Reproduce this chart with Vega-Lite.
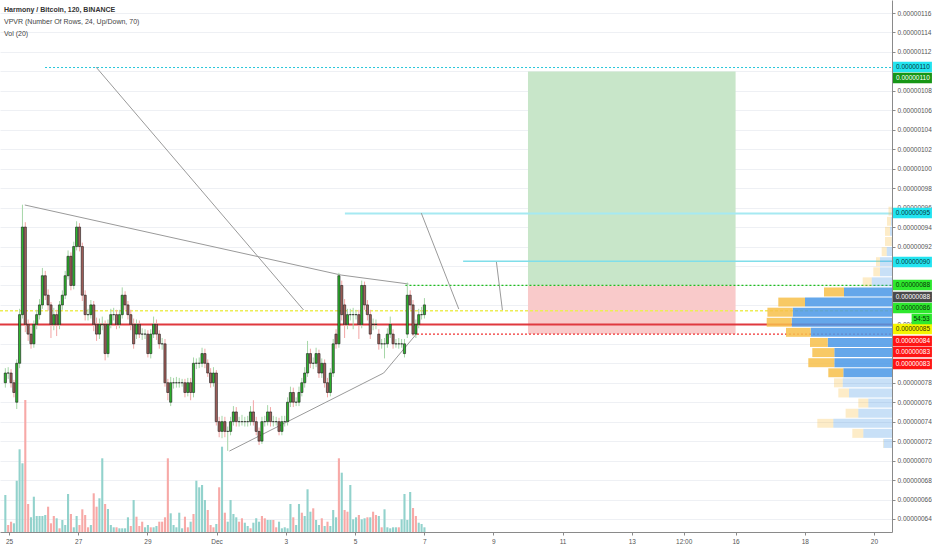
{
"$schema": "https://vega.github.io/schema/vega-lite/v6.json",
"width": 892, "height": 532,
"autosize": {"type": "none"},
"padding": {"left": 0, "top": 0, "right": 40, "bottom": 18},
"background": "white",
"title": {"text": "Harmony / Bitcoin, 120, BINANCE", "subtitle": ["VPVR (Number Of Rows, 24, Up/Down, 70)", "Vol (20)"], "anchor": "start", "frame": "group", "orient": "top", "offset": -37, "dx": 4, "font": "Liberation Sans", "fontSize": 7, "fontWeight": "bold", "color": "#333333", "subtitleFont": "Liberation Sans", "subtitleFontSize": 7, "subtitleColor": "#444444", "subtitlePadding": 5, "subtitleLineHeight": 12.5},
"config": {"view": {"stroke": null}, "axis": {"labelFont": "Liberation Sans"}},
"datasets": {
"candles": [
{"h":-6,"o":78,"c":79,"hi":79.5,"lo":77.5,"v":370,"vu":1},
{"h":-4,"o":79,"c":79,"hi":79.6,"lo":78.4,"v":70,"vu":0},
{"h":-2,"o":79,"c":78,"hi":79.4,"lo":77.5,"v":103,"vu":0},
{"h":0,"o":78,"c":77,"hi":78.3,"lo":76.5,"v":87,"vu":1},
{"h":2,"o":76,"c":80,"hi":80.4,"lo":75.3,"v":513,"vu":1},
{"h":4,"o":80,"c":85,"hi":85.6,"lo":79.5,"v":827,"vu":1},
{"h":6,"o":85,"c":94,"hi":96.3,"lo":84.6,"v":687,"vu":1},
{"h":8,"o":94,"c":84,"hi":94.5,"lo":83.2,"v":1320,"vu":0},
{"h":10,"o":84,"c":83,"hi":84.5,"lo":82.3,"v":280,"vu":0},
{"h":12,"o":83,"c":82,"hi":83.8,"lo":81.5,"v":147,"vu":1},
{"h":14,"o":82,"c":84,"hi":84.4,"lo":81.6,"v":353,"vu":1},
{"h":16,"o":84,"c":85,"hi":85.5,"lo":83.5,"v":160,"vu":1},
{"h":18,"o":85,"c":86,"hi":86.6,"lo":84.5,"v":160,"vu":1},
{"h":20,"o":86,"c":89,"hi":89.8,"lo":85.6,"v":160,"vu":1},
{"h":22,"o":89,"c":87,"hi":89.5,"lo":86.5,"v":170,"vu":1},
{"h":24,"o":87,"c":86,"hi":87.6,"lo":85.4,"v":253,"vu":0},
{"h":26,"o":86,"c":84,"hi":86.3,"lo":82.6,"v":87,"vu":0},
{"h":28,"o":84,"c":85,"hi":85.7,"lo":83.4,"v":160,"vu":0},
{"h":30,"o":85,"c":84,"hi":85.5,"lo":82.8,"v":137,"vu":1},
{"h":32,"o":84,"c":86,"hi":86.4,"lo":83.5,"v":37,"vu":0},
{"h":34,"o":86,"c":87,"hi":87.5,"lo":85.5,"v":120,"vu":1},
{"h":36,"o":87,"c":89,"hi":89.5,"lo":86.6,"v":70,"vu":1},
{"h":38,"o":89,"c":91,"hi":91.6,"lo":88.6,"v":380,"vu":1},
{"h":40,"o":91,"c":88,"hi":91.4,"lo":87.5,"v":180,"vu":0},
{"h":42,"o":88,"c":92,"hi":92.5,"lo":87.6,"v":47,"vu":1},
{"h":44,"o":92,"c":94,"hi":94.6,"lo":91.6,"v":160,"vu":1},
{"h":46,"o":94,"c":92,"hi":94.4,"lo":91.5,"v":70,"vu":0},
{"h":48,"o":92,"c":87,"hi":92.4,"lo":86.4,"v":227,"vu":0},
{"h":50,"o":87,"c":85,"hi":87.5,"lo":84.4,"v":170,"vu":0},
{"h":52,"o":85,"c":85,"hi":85.6,"lo":84.4,"v":47,"vu":0},
{"h":54,"o":85,"c":86,"hi":86.5,"lo":84.6,"v":70,"vu":1},
{"h":56,"o":86,"c":84,"hi":86.4,"lo":83.3,"v":387,"vu":0},
{"h":58,"o":84,"c":83,"hi":84.7,"lo":82.3,"v":253,"vu":0},
{"h":60,"o":83,"c":84,"hi":84.6,"lo":82.5,"v":337,"vu":1},
{"h":62,"o":84,"c":84,"hi":84.8,"lo":83.4,"v":737,"vu":1},
{"h":64,"o":84,"c":81,"hi":84.4,"lo":80.3,"v":280,"vu":0},
{"h":66,"o":81,"c":84,"hi":84.5,"lo":80.6,"v":230,"vu":1},
{"h":68,"o":84,"c":85,"hi":85.6,"lo":83.6,"v":70,"vu":1},
{"h":70,"o":85,"c":85,"hi":85.7,"lo":84.4,"v":47,"vu":1},
{"h":72,"o":85,"c":84,"hi":85.5,"lo":83.5,"v":47,"vu":0},
{"h":74,"o":84,"c":85,"hi":85.5,"lo":83.6,"v":37,"vu":1},
{"h":76,"o":85,"c":87,"hi":87.8,"lo":84.6,"v":37,"vu":1},
{"h":78,"o":87,"c":86,"hi":87.4,"lo":85.5,"v":37,"vu":1},
{"h":80,"o":86,"c":85,"hi":86.4,"lo":84.5,"v":147,"vu":1},
{"h":82,"o":85,"c":84,"hi":85.5,"lo":83.4,"v":60,"vu":0},
{"h":84,"o":84,"c":82,"hi":84.6,"lo":81.5,"v":320,"vu":1},
{"h":86,"o":83,"c":84,"hi":84.5,"lo":82.5,"v":153,"vu":0},
{"h":88,"o":84,"c":83,"hi":84.4,"lo":82.6,"v":60,"vu":0},
{"h":90,"o":83,"c":83,"hi":83.6,"lo":82.4,"v":103,"vu":0},
{"h":92,"o":83,"c":83,"hi":83.5,"lo":82.5,"v":47,"vu":1},
{"h":94,"o":83,"c":81,"hi":83.4,"lo":80.6,"v":70,"vu":1},
{"h":96,"o":81,"c":83,"hi":83.5,"lo":80.5,"v":47,"vu":0},
{"h":98,"o":83,"c":84,"hi":84.8,"lo":82.6,"v":47,"vu":1},
{"h":100,"o":84,"c":83,"hi":84.5,"lo":82.4,"v":60,"vu":1},
{"h":102,"o":83,"c":82,"hi":83.4,"lo":81.5,"v":103,"vu":0},
{"h":104,"o":82,"c":82,"hi":82.6,"lo":81.4,"v":103,"vu":0},
{"h":106,"o":82,"c":78,"hi":82.5,"lo":77.6,"v":147,"vu":0},
{"h":108,"o":78,"c":77,"hi":78.4,"lo":76.2,"v":737,"vu":0},
{"h":110,"o":76,"c":78,"hi":78.6,"lo":75.6,"v":187,"vu":1},
{"h":112,"o":78,"c":78,"hi":78.5,"lo":77.4,"v":70,"vu":1},
{"h":114,"o":78,"c":78,"hi":78.6,"lo":77.5,"v":47,"vu":1},
{"h":116,"o":78,"c":78,"hi":78.5,"lo":77.5,"v":193,"vu":1},
{"h":118,"o":78,"c":78,"hi":78.4,"lo":77.6,"v":37,"vu":1},
{"h":120,"o":78,"c":77,"hi":78.4,"lo":76.5,"v":153,"vu":0},
{"h":122,"o":77,"c":78,"hi":78.5,"lo":76.6,"v":47,"vu":0},
{"h":124,"o":78,"c":77,"hi":78.5,"lo":76.2,"v":103,"vu":1},
{"h":126,"o":77,"c":80,"hi":80.6,"lo":76.5,"v":180,"vu":0},
{"h":128,"o":80,"c":80,"hi":80.5,"lo":79.4,"v":513,"vu":1},
{"h":130,"o":80,"c":80,"hi":80.6,"lo":79.5,"v":447,"vu":1},
{"h":132,"o":80,"c":81,"hi":81.6,"lo":79.6,"v":470,"vu":1},
{"h":134,"o":81,"c":80,"hi":81.5,"lo":79.5,"v":320,"vu":1},
{"h":136,"o":80,"c":79,"hi":80.4,"lo":78.6,"v":220,"vu":0},
{"h":138,"o":79,"c":78,"hi":79.5,"lo":77.5,"v":70,"vu":0},
{"h":140,"o":78,"c":79,"hi":79.6,"lo":77.6,"v":47,"vu":0},
{"h":142,"o":79,"c":74,"hi":79.3,"lo":73.6,"v":80,"vu":1},
{"h":144,"o":74,"c":73,"hi":74.5,"lo":72.4,"v":447,"vu":0},
{"h":146,"o":73,"c":74,"hi":74.6,"lo":72.3,"v":853,"vu":1},
{"h":148,"o":74,"c":73,"hi":74.5,"lo":72.4,"v":193,"vu":0},
{"h":150,"o":73,"c":73,"hi":73.5,"lo":71.0,"v":103,"vu":1},
{"h":152,"o":73,"c":74,"hi":74.5,"lo":72.6,"v":320,"vu":1},
{"h":154,"o":74,"c":75,"hi":75.6,"lo":73.6,"v":180,"vu":1},
{"h":156,"o":75,"c":74,"hi":75.5,"lo":73.5,"v":147,"vu":1},
{"h":158,"o":74,"c":74,"hi":74.5,"lo":73.5,"v":103,"vu":0},
{"h":160,"o":74,"c":74,"hi":74.7,"lo":73.6,"v":137,"vu":0},
{"h":162,"o":74,"c":74,"hi":74.5,"lo":73.5,"v":93,"vu":1},
{"h":164,"o":74,"c":74,"hi":74.6,"lo":73.5,"v":60,"vu":1},
{"h":166,"o":74,"c":75,"hi":75.6,"lo":73.6,"v":37,"vu":0},
{"h":168,"o":75,"c":74,"hi":76.2,"lo":73.6,"v":93,"vu":1},
{"h":170,"o":74,"c":73,"hi":74.5,"lo":72.6,"v":137,"vu":1},
{"h":172,"o":73,"c":72,"hi":73.4,"lo":71.6,"v":103,"vu":1},
{"h":174,"o":72,"c":74,"hi":74.5,"lo":71.7,"v":160,"vu":0},
{"h":176,"o":74,"c":74,"hi":74.6,"lo":73.5,"v":137,"vu":0},
{"h":178,"o":74,"c":75,"hi":75.7,"lo":73.6,"v":120,"vu":1},
{"h":180,"o":75,"c":74,"hi":75.5,"lo":73.5,"v":120,"vu":1},
{"h":182,"o":74,"c":74,"hi":74.6,"lo":73.5,"v":120,"vu":0},
{"h":184,"o":74,"c":74,"hi":74.5,"lo":73.6,"v":47,"vu":0},
{"h":186,"o":74,"c":73,"hi":74.4,"lo":72.6,"v":103,"vu":1},
{"h":188,"o":73,"c":74,"hi":74.6,"lo":72.6,"v":37,"vu":1},
{"h":190,"o":74,"c":74,"hi":74.6,"lo":73.5,"v":47,"vu":1},
{"h":192,"o":74,"c":76,"hi":76.5,"lo":73.6,"v":37,"vu":1},
{"h":194,"o":76,"c":77,"hi":77.6,"lo":75.5,"v":280,"vu":1},
{"h":196,"o":77,"c":76,"hi":77.5,"lo":75.5,"v":147,"vu":0},
{"h":198,"o":76,"c":76,"hi":76.5,"lo":75.6,"v":70,"vu":1},
{"h":200,"o":76,"c":77,"hi":77.6,"lo":75.6,"v":280,"vu":1},
{"h":202,"o":77,"c":78,"hi":78.5,"lo":76.6,"v":193,"vu":0},
{"h":204,"o":78,"c":79,"hi":79.6,"lo":77.5,"v":160,"vu":1},
{"h":206,"o":79,"c":81,"hi":82.3,"lo":78.6,"v":427,"vu":1},
{"h":208,"o":81,"c":80,"hi":81.5,"lo":79.5,"v":203,"vu":1},
{"h":210,"o":80,"c":80,"hi":80.6,"lo":79.4,"v":237,"vu":0},
{"h":212,"o":80,"c":81,"hi":81.6,"lo":79.6,"v":120,"vu":1},
{"h":214,"o":81,"c":79,"hi":81.4,"lo":78.5,"v":70,"vu":1},
{"h":216,"o":79,"c":80,"hi":80.5,"lo":78.5,"v":137,"vu":0},
{"h":218,"o":80,"c":78,"hi":80.4,"lo":77.5,"v":60,"vu":1},
{"h":220,"o":78,"c":77,"hi":78.5,"lo":76.5,"v":103,"vu":0},
{"h":222,"o":77,"c":79,"hi":79.5,"lo":76.6,"v":60,"vu":1},
{"h":224,"o":79,"c":82,"hi":82.5,"lo":78.6,"v":220,"vu":1},
{"h":226,"o":83,"c":82,"hi":83.5,"lo":81.5,"v":147,"vu":1},
{"h":228,"o":82,"c":89,"hi":89.3,"lo":81.6,"v":737,"vu":0},
{"h":230,"o":88,"c":85,"hi":88.5,"lo":84.4,"v":593,"vu":1},
{"h":232,"o":86,"c":84,"hi":86.6,"lo":82.6,"v":220,"vu":0},
{"h":234,"o":84,"c":85,"hi":85.6,"lo":83.5,"v":203,"vu":0},
{"h":236,"o":85,"c":85,"hi":85.6,"lo":84.4,"v":470,"vu":1},
{"h":238,"o":85,"c":85,"hi":85.7,"lo":83.5,"v":127,"vu":1},
{"h":240,"o":85,"c":85,"hi":85.5,"lo":84.5,"v":147,"vu":1},
{"h":242,"o":85,"c":84,"hi":85.5,"lo":82.5,"v":170,"vu":0},
{"h":244,"o":84,"c":88,"hi":88.5,"lo":83.6,"v":127,"vu":1},
{"h":246,"o":88,"c":86,"hi":88.4,"lo":85.5,"v":137,"vu":1},
{"h":248,"o":86,"c":85,"hi":86.5,"lo":84.4,"v":147,"vu":0},
{"h":250,"o":85,"c":83,"hi":85.5,"lo":82.5,"v":147,"vu":1},
{"h":252,"o":84,"c":84,"hi":84.6,"lo":83.4,"v":203,"vu":0},
{"h":254,"o":84,"c":84,"hi":84.5,"lo":83.5,"v":170,"vu":0},
{"h":256,"o":83,"c":82,"hi":83.5,"lo":81.4,"v":160,"vu":1},
{"h":258,"o":82,"c":82,"hi":82.5,"lo":81.5,"v":47,"vu":0},
{"h":260,"o":82,"c":82,"hi":82.6,"lo":80.5,"v":227,"vu":1},
{"h":262,"o":82,"c":83,"hi":83.6,"lo":81.6,"v":47,"vu":1},
{"h":264,"o":83,"c":84,"hi":84.8,"lo":82.6,"v":37,"vu":1},
{"h":266,"o":83,"c":82,"hi":83.5,"lo":81.5,"v":47,"vu":1},
{"h":268,"o":82,"c":82,"hi":82.5,"lo":81.6,"v":47,"vu":1},
{"h":270,"o":82,"c":82,"hi":82.6,"lo":81.5,"v":47,"vu":0},
{"h":272,"o":82,"c":82,"hi":82.5,"lo":81.6,"v":127,"vu":1},
{"h":274,"o":81,"c":82,"hi":82.5,"lo":80.6,"v":380,"vu":1},
{"h":276,"o":83,"c":87,"hi":88.3,"lo":82.6,"v":120,"vu":1},
{"h":278,"o":87,"c":86,"hi":87.5,"lo":85.5,"v":400,"vu":1},
{"h":280,"o":86,"c":83,"hi":86.5,"lo":82.8,"v":240,"vu":0},
{"h":282,"o":83,"c":84,"hi":84.5,"lo":82.6,"v":160,"vu":0},
{"h":284,"o":84,"c":85,"hi":85.6,"lo":83.6,"v":93,"vu":1},
{"h":286,"o":85,"c":85,"hi":85.8,"lo":84.5,"v":80,"vu":1},
{"h":288,"o":85,"c":86,"hi":86.7,"lo":84.6,"v":47,"vu":1}
],
"profile": [
{"lo":70.94,"hi":71.88,"side":"up","vol":85,"area":"outside"},{"lo":70.94,"hi":71.88,"side":"down","vol":5,"area":"outside"},
{"lo":72.00,"hi":72.94,"side":"up","vol":287,"area":"outside"},{"lo":72.00,"hi":72.94,"side":"down","vol":110,"area":"outside"},
{"lo":73.06,"hi":73.99,"side":"up","vol":587,"area":"outside"},{"lo":73.06,"hi":73.99,"side":"down","vol":160,"area":"outside"},
{"lo":74.11,"hi":75.05,"side":"up","vol":337,"area":"outside"},{"lo":74.11,"hi":75.05,"side":"down","vol":127,"area":"outside"},
{"lo":75.17,"hi":76.11,"side":"up","vol":237,"area":"outside"},{"lo":75.17,"hi":76.11,"side":"down","vol":100,"area":"outside"},
{"lo":76.23,"hi":77.17,"side":"up","vol":430,"area":"outside"},{"lo":76.23,"hi":77.17,"side":"down","vol":107,"area":"outside"},
{"lo":77.29,"hi":78.23,"side":"up","vol":493,"area":"outside"},{"lo":77.29,"hi":78.23,"side":"down","vol":87,"area":"outside"},
{"lo":78.35,"hi":79.28,"side":"up","vol":487,"area":"value"},{"lo":78.35,"hi":79.28,"side":"down","vol":150,"area":"value"},
{"lo":79.40,"hi":80.34,"side":"up","vol":577,"area":"value"},{"lo":79.40,"hi":80.34,"side":"down","vol":260,"area":"value"},
{"lo":80.46,"hi":81.40,"side":"up","vol":577,"area":"value"},{"lo":80.46,"hi":81.40,"side":"down","vol":220,"area":"value"},
{"lo":81.52,"hi":82.46,"side":"up","vol":643,"area":"value"},{"lo":81.52,"hi":82.46,"side":"down","vol":177,"area":"value"},
{"lo":82.58,"hi":83.52,"side":"up","vol":813,"area":"value"},{"lo":82.58,"hi":83.52,"side":"down","vol":247,"area":"value"},
{"lo":83.64,"hi":84.57,"side":"up","vol":1003,"area":"value"},{"lo":83.64,"hi":84.57,"side":"down","vol":250,"area":"value"},
{"lo":84.69,"hi":85.63,"side":"up","vol":993,"area":"value"},{"lo":84.69,"hi":85.63,"side":"down","vol":253,"area":"value"},
{"lo":85.75,"hi":86.69,"side":"up","vol":870,"area":"value"},{"lo":85.75,"hi":86.69,"side":"down","vol":267,"area":"value"},
{"lo":86.81,"hi":87.75,"side":"up","vol":480,"area":"value"},{"lo":86.81,"hi":87.75,"side":"down","vol":200,"area":"value"},
{"lo":87.87,"hi":88.81,"side":"up","vol":203,"area":"outside"},{"lo":87.87,"hi":88.81,"side":"down","vol":90,"area":"outside"},
{"lo":88.93,"hi":89.86,"side":"up","vol":120,"area":"outside"},{"lo":88.93,"hi":89.86,"side":"down","vol":67,"area":"outside"},
{"lo":89.98,"hi":90.92,"side":"up","vol":120,"area":"outside"},{"lo":89.98,"hi":90.92,"side":"down","vol":40,"area":"outside"},
{"lo":91.04,"hi":91.98,"side":"up","vol":53,"area":"outside"},{"lo":91.04,"hi":91.98,"side":"down","vol":50,"area":"outside"},
{"lo":92.10,"hi":93.04,"side":"up","vol":3,"area":"outside"},{"lo":92.10,"hi":93.04,"side":"down","vol":67,"area":"outside"},
{"lo":93.16,"hi":94.10,"side":"up","vol":20,"area":"outside"},{"lo":93.16,"hi":94.10,"side":"down","vol":50,"area":"outside"},
{"lo":94.22,"hi":95.15,"side":"up","vol":10,"area":"outside"},{"lo":94.22,"hi":95.15,"side":"down","vol":40,"area":"outside"},
{"lo":95.27,"hi":96.21,"side":"up","vol":5,"area":"outside"},{"lo":95.27,"hi":96.21,"side":"down","vol":30,"area":"outside"}
]
},
"resolve": {"scale": {"x": "independent", "y": "independent", "color": "independent", "fill": "independent", "stroke": "independent", "opacity": "independent"}},
"layer": [
{
"data": {"values": [{"start": 360, "end": 504, "bottom": 88, "top": 110, "zone": "profit"}, {"start": 360, "end": 504, "bottom": 83, "top": 88, "zone": "loss"}]},
"mark": {"type": "rect"},
"encoding": {
"x": {"field": "start", "type": "quantitative", "scale": {"domain": [-6.24, 612.5], "nice": false, "zero": false}, "axis": null},
"x2": {"field": "end"},
"y": {"field": "bottom", "type": "quantitative", "scale": {"domain": [62.66, 117.34], "nice": false, "zero": false}, "axis": null},
"y2": {"field": "top"},
"color": {"field": "zone", "type": "nominal", "scale": {"domain": ["profit", "loss"], "range": ["#c8e6c9", "#f9caca"]}, "legend": null}
}
},
{
"data": {"name": "candles"},
"mark": {"type": "bar", "orient": "vertical", "size": 2.1},
"encoding": {
"x": {"field": "h", "type": "quantitative", "scale": {"domain": [-6.24, 612.5], "nice": false, "zero": false}, "axis": null},
"y": {"field": "v", "type": "quantitative", "scale": {"domain": [0, 5320], "nice": false}, "axis": null},
"fill": {"condition": {"test": "datum.vu == 1", "value": "#92d2cc"}, "value": "#f7a9a7"}
}
},
{
"layer": [
{
"data": {"values": [{"price": 110.4, "from": 25, "to": 612.5}]},
"mark": {"type": "rule", "color": "#26c6da", "strokeWidth": 1, "strokeDash": [2, 2]},
"encoding": {
"x": {"field": "from", "type": "quantitative", "scale": {"domain": [-6.24, 612.5], "nice": false, "zero": false},
 "axis": {"orient": "bottom", "title": null, "grid": false, "tickCount": 30, "values": [0, 48, 96, 144, 192, 240, 288, 336, 384, 432, 468, 504, 552, 600],
  "labelExpr": "datum.value == 144 ? 'Dec' : datum.value == 468 ? '12:00' : datum.value < 144 ? '' + (25 + datum.value / 24) : '' + ((datum.value - 144) / 24 + 1)",
  "labelOverlap": false, "labelFontSize": 6.5, "labelColor": "#555555", "labelPadding": 3, "labelFlush": false, "tickSize": 3, "tickColor": "#8a8a8a", "domainColor": "#8a8a8a"}},
"x2": {"field": "to"},
"y": {"field": "price", "type": "quantitative", "scale": {"domain": [62.66, 117.34], "nice": false, "zero": false},
 "axis": {"orient": "right", "title": null, "grid": true, "gridColor": "#eef0f4", "tickCount": 40, "values": [64, 66, 68, 70, 72, 74, 76, 78, 80, 82, 84, 86, 88, 90, 92, 94, 96, 98, 100, 102, 104, 106, 108, 110, 112, 114, 116],
  "labelExpr": "indexof([80, 82, 86, 88, 90, 110], datum.value) >= 0 ? '' : format(datum.value / 100000000, '.8f')", "labelOverlap": false, "labelFontSize": 6.5, "labelColor": "#555555", "labelPadding": 2, "tickSize": 3, "tickColor": "#8a8a8a", "domainColor": "#8a8a8a"}}
}
},
{
"data": {"values": [{"price": 95.4, "from": 233, "to": 612.5}]},
"mark": {"type": "rule", "color": "#a6e9f2", "strokeWidth": 2},
"encoding": {"x": {"field": "from", "type": "quantitative"}, "x2": {"field": "to"}, "y": {"field": "price", "type": "quantitative"}}
},
{
"data": {"values": [{"price": 90.5, "from": 315, "to": 612.5}]},
"mark": {"type": "rule", "color": "#80deea", "strokeWidth": 1.5},
"encoding": {"x": {"field": "from", "type": "quantitative"}, "x2": {"field": "to"}, "y": {"field": "price", "type": "quantitative"}}
},
{
"data": {"values": [{"price": 88.0, "from": 275, "to": 612.5}]},
"mark": {"type": "rule", "color": "#1fbf1f", "strokeWidth": 1.2, "strokeDash": [2, 2]},
"encoding": {"x": {"field": "from", "type": "quantitative"}, "x2": {"field": "to"}, "y": {"field": "price", "type": "quantitative"}}
},
{
"data": {"values": [{"price": 85.4, "from": -6.24, "to": 612.5}]},
"mark": {"type": "rule", "color": "#eded55", "strokeWidth": 1.5, "strokeDash": [3, 2]},
"encoding": {"x": {"field": "from", "type": "quantitative"}, "x2": {"field": "to"}, "y": {"field": "price", "type": "quantitative"}}
},
{
"data": {"values": [{"price": 84.0, "from": -6.24, "to": 612.5}]},
"mark": {"type": "rule", "color": "#e0393e", "strokeWidth": 2},
"encoding": {"x": {"field": "from", "type": "quantitative"}, "x2": {"field": "to"}, "y": {"field": "price", "type": "quantitative"}}
},
{
"data": {"values": [{"price": 83.0, "from": 283, "to": 612.5}]},
"mark": {"type": "rule", "color": "#f03030", "strokeWidth": 1.2, "strokeDash": [2, 2]},
"encoding": {"x": {"field": "from", "type": "quantitative"}, "x2": {"field": "to"}, "y": {"field": "price", "type": "quantitative"}}
}
]
},
{
"data": {"name": "profile"},
"mark": {"type": "bar", "orient": "horizontal"},
"encoding": {
"y": {"field": "lo", "type": "quantitative", "scale": {"domain": [62.66, 117.34], "nice": false, "zero": false}, "axis": null},
"y2": {"field": "hi"},
"x": {"field": "vol", "type": "quantitative", "stack": "zero", "scale": {"domain": [0, 8920], "reverse": true, "nice": false}, "axis": null},
"color": {"field": "side", "type": "nominal", "scale": {"domain": ["up", "down"], "range": ["#4a98e6", "#f7c04a"]}, "legend": null},
"opacity": {"field": "area", "type": "nominal", "scale": {"domain": ["value", "outside"], "range": [0.85, 0.3]}, "legend": null},
"order": {"field": "side", "sort": "descending"}
}
},
{
"layer": [
{
"data": {"values": [
{"seg": 1, "k": 0, "h": 7.63, "p": 96.27}, {"seg": 1, "k": 1, "h": 229.6, "p": 89.07}, {"seg": 1, "k": 2, "h": 276.8, "p": 88.15},
{"seg": 2, "k": 0, "h": 57.6, "p": 110.45}, {"seg": 2, "k": 1, "h": 203.2, "p": 85.48},
{"seg": 3, "k": 0, "h": 151.2, "p": 70.98}, {"seg": 3, "k": 1, "h": 259.4, "p": 79.0}, {"seg": 3, "k": 2, "h": 282.3, "p": 83.0},
{"seg": 4, "k": 0, "h": 285.8, "p": 95.44}, {"seg": 4, "k": 1, "h": 312.1, "p": 85.58},
{"seg": 5, "k": 0, "h": 338.5, "p": 90.41}, {"seg": 5, "k": 1, "h": 342.7, "p": 85.48}
]},
"mark": {"type": "line", "color": "#9a9a9a", "strokeWidth": 1},
"encoding": {
"x": {"field": "h", "type": "quantitative", "scale": {"domain": [-6.24, 612.5], "nice": false, "zero": false}, "axis": null},
"y": {"field": "p", "type": "quantitative", "scale": {"domain": [62.66, 117.34], "nice": false, "zero": false}, "axis": null},
"detail": {"field": "seg", "type": "nominal"},
"order": {"field": "k", "type": "quantitative"}
}
},
{
"data": {"name": "candles"},
"mark": {"type": "rule", "strokeWidth": 1},
"encoding": {
"x": {"field": "h", "type": "quantitative", "axis": null},
"y": {"field": "lo", "type": "quantitative", "axis": null},
"y2": {"field": "hi"},
"stroke": {"condition": {"test": "datum.c >= datum.o", "value": "#a5d6a7"}, "value": "#f2a5a5"}
}
},
{
"data": {"name": "candles"},
"mark": {"type": "bar", "orient": "vertical", "size": 2.2, "stroke": "#1a1a1a", "strokeWidth": 0.6},
"encoding": {
"x": {"field": "h", "type": "quantitative", "axis": null},
"y": {"field": "o", "type": "quantitative", "axis": null},
"y2": {"field": "c"},
"fill": {"condition": {"test": "datum.c >= datum.o", "value": "#2db52d"}, "value": "#a3605b"}
}
}
]
},
{
"layer": [
{
"data": {"values": [
{"p": 110.45, "label": "0.00000110", "kind": "alert"},
{"p": 109.32, "label": "0.00000110", "kind": "target"},
{"p": 95.45, "label": "0.00000095", "kind": "alert"},
{"p": 90.41, "label": "0.00000090", "kind": "alert"},
{"p": 88.05, "label": "0.00000088", "kind": "entry"},
{"p": 86.81, "label": "0.00000088", "kind": "poc"},
{"p": 85.68, "label": "0.00000086", "kind": "entry"},
{"p": 83.52, "label": "0.00000085", "kind": "level"},
{"p": 82.29, "label": "0.00000084", "kind": "stop"},
{"p": 81.16, "label": "0.00000083", "kind": "stop"},
{"p": 79.93, "label": "0.00000083", "kind": "stop"}
]},
"layer": [
{
"mark": {"type": "rule", "strokeWidth": 10.5, "strokeCap": "butt"},
"encoding": {
"x": {"datum": 613.2, "type": "quantitative", "scale": {"domain": [-6.24, 612.5], "nice": false, "zero": false}, "axis": null},
"x2": {"datum": 640.2},
"y": {"field": "p", "type": "quantitative", "scale": {"domain": [62.66, 117.34], "nice": false, "zero": false}, "axis": null},
"stroke": {"field": "kind", "type": "nominal", "scale": {"domain": ["alert", "target", "entry", "poc", "level", "stop"], "range": ["#22e4f0", "#169616", "#2ee82e", "#4a4a4a", "#f5f500", "#ff1414"]}, "legend": null}
}
},
{
"mark": {"type": "text", "font": "Liberation Sans", "fontSize": 6.5, "align": "center", "baseline": "middle"},
"encoding": {
"x": {"datum": 627, "type": "quantitative", "axis": null},
"y": {"field": "p", "type": "quantitative", "axis": null},
"text": {"field": "label"},
"fill": {"field": "kind", "type": "nominal", "scale": {"domain": ["alert", "target", "entry", "poc", "level", "stop"], "range": ["#073b40", "#ffffff", "#063306", "#ffffff", "#333300", "#ffffff"]}, "legend": null}
}
}
]
},
{
"data": {"values": [{"p": 84.55, "label": "54:53"}]},
"layer": [
{
"mark": {"type": "rule", "strokeWidth": 10.5, "strokeCap": "butt", "color": "#2ee82e"},
"encoding": {"x": {"datum": 626.1, "type": "quantitative", "axis": null}, "x2": {"datum": 640.2}, "y": {"field": "p", "type": "quantitative", "axis": null}}
},
{
"mark": {"type": "text", "font": "Liberation Sans", "fontSize": 6.5, "align": "center", "baseline": "middle", "color": "#063306"},
"encoding": {"x": {"datum": 633, "type": "quantitative", "axis": null}, "y": {"field": "p", "type": "quantitative", "axis": null}, "text": {"field": "label"}}
}
]
}
]
}
]
}
